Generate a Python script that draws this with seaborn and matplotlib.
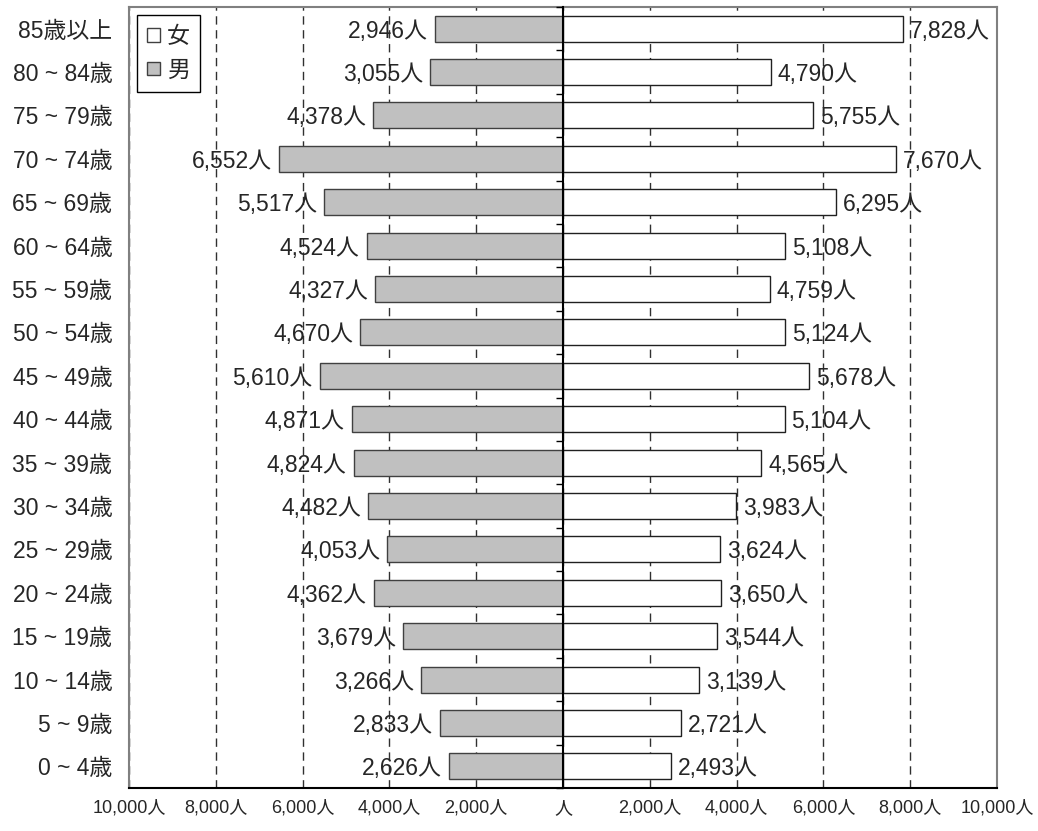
import numpy as np
import pandas as pd
import matplotlib
matplotlib.use("Agg")
import matplotlib.pyplot as plt
from matplotlib.patches import Patch
import seaborn as sns

sns.set_style("white")
plt.rcParams['font.family'] = ['Liberation Sans', 'Noto Sans CJK JP']

# age groups, top to bottom
ages = ["85歳以上", "80 ~ 84歳", "75 ~ 79歳", "70 ~ 74歳", "65 ~ 69歳", "60 ~ 64歳",
        "55 ~ 59歳", "50 ~ 54歳", "45 ~ 49歳", "40 ~ 44歳", "35 ~ 39歳", "30 ~ 34歳",
        "25 ~ 29歳", "20 ~ 24歳", "15 ~ 19歳", "10 ~ 14歳", "5 ~ 9歳", "0 ~ 4歳"]
male = [2946, 3055, 4378, 6552, 5517, 4524, 4327, 4670, 5610, 4871, 4824, 4482,
        4053, 4362, 3679, 3266, 2833, 2626]
female = [7828, 4790, 5755, 7670, 6295, 5108, 4759, 5124, 5678, 5104, 4565, 3983,
          3624, 3650, 3544, 3139, 2721, 2493]
xticks = [-10000, -8000, -6000, -4000, -2000, 0, 2000, 4000, 6000, 8000, 10000]

df = pd.DataFrame({"age": ages, "male": male, "female": female})
df["male_neg"] = -df["male"]

fig = plt.figure(figsize=(10.38, 8.31), dpi=100)
ax = fig.add_axes([129 / 1038, 1 - 788 / 831, (997 - 129) / 1038, (788 - 7) / 831])

sns.barplot(data=df, x="male_neg", y="age", orient="h", color="#c0c0c0", saturation=1,
            edgecolor="#404040", linewidth=1, width=0.6, ax=ax)
sns.barplot(data=df, x="female", y="age", orient="h", color="white", saturation=1,
            edgecolor="#202020", linewidth=1, width=0.6, ax=ax)

for cont, vals in [(ax.containers[0], male), (ax.containers[1], female)]:
    texts = ax.bar_label(cont, labels=[f"{v:,}人" for v in vals], padding=5, fontsize=16.5)
    for t in texts:
        t.set_va("center_baseline")

ax.set_xlim(-10000, 10000)
ax.set_ylim(len(ages) - 0.5, -0.5)
ax.set_xticks(xticks)
ax.set_xticklabels([f"{abs(v):,}人" if v != 0 else "人" for v in xticks], fontsize=13)
ax.tick_params(axis="x", length=0, pad=8.5)
ax.tick_params(axis="y", length=0, pad=12, labelsize=16.5)
ax.set_xlabel("")
ax.set_ylabel("")
ax.set_axisbelow(True)
ax.grid(axis="x", linestyle=(0, (6, 4)), color="#303030", linewidth=1)
ax.grid(axis="y", visible=False)

for side in ["left", "top", "right"]:
    ax.spines[side].set_color("#808080")
    ax.spines[side].set_linewidth(1.5)
ax.spines["bottom"].set_color("black")
ax.spines["bottom"].set_linewidth(1.5)

# center axis with small ticks between age groups
ax2 = ax.twinx()
ax2.set_ylim(ax.get_ylim())
ax2.spines["right"].set_position(("data", 0))
ax2.spines["right"].set_color("black")
ax2.spines["right"].set_linewidth(1.5)
for side in ["left", "top", "bottom"]:
    ax2.spines[side].set_visible(False)
ax2.set_yticks(np.arange(len(ages) + 1) - 0.5)
ax2.tick_params(axis="y", direction="in", length=5, width=1, color="black", labelright=False)
ax2.grid(False)

handles = [Patch(facecolor="white", edgecolor="#404040", label="女"),
           Patch(facecolor="#c0c0c0", edgecolor="#404040", label="男")]
leg = ax.legend(handles=handles, loc="upper left", fontsize=16.5, handlelength=0.55,
                handleheight=0.55, handletextpad=0.3, borderpad=0.45, borderaxespad=0.35,
                fancybox=False, framealpha=1, labelspacing=0.45)
leg.get_frame().set_edgecolor("black")
leg.get_frame().set_linewidth(1)

fig.savefig("out.png", dpi=100)
